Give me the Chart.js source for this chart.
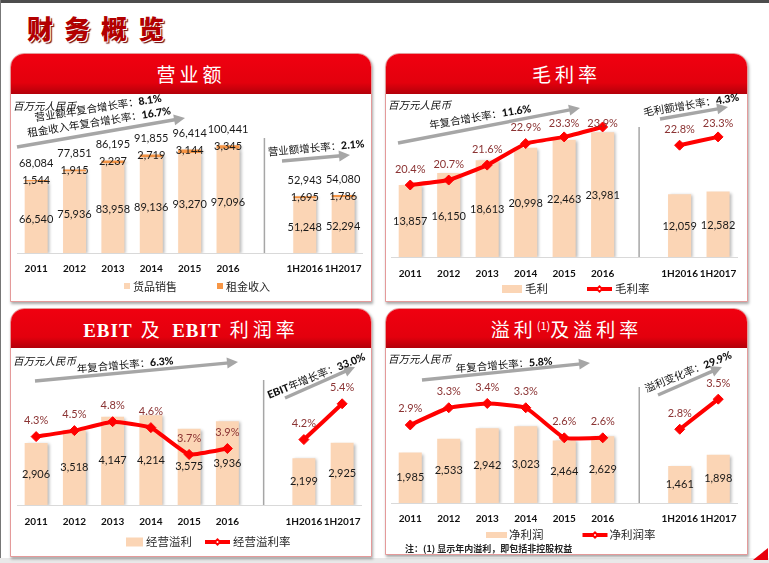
<!DOCTYPE html>
<html>
<head>
<meta charset="utf-8">
<script src="https://cdn.jsdelivr.net/npm/chart.js@4.4.0/dist/chart.umd.min.js"></script>
<style>
  html, body { margin: 0; padding: 0; background: #fff; }
  #page { position: relative; width: 769px; height: 563px; overflow: hidden; background: #fff;
          font-family: Lato, 'Noto Sans CJK SC', sans-serif; }
  .frameTop { position: absolute; left: 0; top: 0; width: 769px; height: 3px; background: #4d4d4d; }
  .frameLeft { position: absolute; left: 0; top: 0; width: 1px; height: 563px; background: #777; }
  .frameBottom { position: absolute; left: 0; top: 558px; width: 769px; height: 5px; background: #e9e9e9; }
  .title { position: absolute; left: 27px; top: 9px; font-size: 26px; font-weight: 900; letter-spacing: 11px;
           color: #b30000; font-family: 'Noto Sans CJK SC', sans-serif;
           text-shadow: 1px 1px 0 #fff, 2px 2px 1px #6a0000; }
  .panel { position: absolute; background: #fff; border: 1px solid #e49a9a; border-radius: 14px 14px 0 0;
           box-shadow: 1px 2px 3px rgba(0,0,0,0.35); overflow: hidden; box-sizing: border-box; }
  .head { height: 40px; line-height: 40px; text-align: center; color: #fff; font-size: 19px; letter-spacing: 4px;
          font-family: 'Noto Sans CJK SC', sans-serif;
          background: linear-gradient(to bottom, #f00010 0%, #e3000d 72%, #b3000a 100%); }
  .head .en { font-family: 'Liberation Serif', serif; font-weight: bold; letter-spacing: 1px; }
  .head sup { font-size: 11px; letter-spacing: 0; vertical-align: 7px; line-height: 0; }
  canvas { position: absolute; }
  .unit { position: absolute; font-size: 10.5px; font-style: italic; color: #111;
          font-family: 'Noto Sans CJK SC', sans-serif; white-space: nowrap; }
  .rt { position: absolute; font-size: 10.5px; color: #111; white-space: nowrap;
        font-family: 'Noto Sans CJK SC', sans-serif; transform-origin: 50% 50%; }
  .rt b { font-family: Lato, sans-serif; font-weight: 900; }
  .note { position: absolute; left: 405px; top: 542px; font-size: 9px; color: #222; font-weight: bold;
          font-family: 'Noto Sans CJK SC', sans-serif; white-space: nowrap; }
  .corner { position: absolute; left: 753px; top: 548px; width: 0; height: 0;
            border-left: 15px solid transparent; border-bottom: 12px solid #e8000b; }
  svg { position: absolute; left: 0; top: 0; }
</style>
</head>
<body>
<div id="page">
  <div class="frameTop"></div>
  <div class="frameLeft"></div>
  <div class="frameBottom"></div>
  <div class="title">财务概览</div>

  <div class="panel" style="left:10px;top:53px;width:362px;height:249px"><div class="head">营业额</div></div>
  <div class="panel" style="left:385px;top:53px;width:363px;height:249px"><div class="head">毛利率</div></div>
  <div class="panel" style="left:10px;top:308px;width:362px;height:249px"><div class="head" style="height:39px;line-height:39px"><span class="en">EBIT</span> 及 <span class="en">EBIT</span> 利润率</div></div>
  <div class="panel" style="left:385px;top:308px;width:363px;height:247px"><div class="head" style="height:39px;line-height:39px">溢利<sup>(1)</sup>及溢利率</div></div>

  <canvas id="c1" width="362" height="209" style="left:10px;top:93px"></canvas>
  <canvas id="c2" width="363" height="209" style="left:385px;top:93px"></canvas>
  <canvas id="c3" width="362" height="210" style="left:10px;top:347px"></canvas>
  <canvas id="c4" width="363" height="208" style="left:385px;top:347px"></canvas>

  <svg id="arrows" width="769" height="563"></svg>

  <div class="unit" style="left:13px;top:98px">百万元人民币</div>
  <div class="unit" style="left:388px;top:97px">百万元人民币</div>
  <div class="unit" style="left:13px;top:353px">百万元人民币</div>
  <div class="unit" style="left:388px;top:351px">百万元人民币</div>

  <div class="rt" data-c="98,107,-8.8">营业额年复合增长率：<b>8.1%</b></div>
  <div class="rt" data-c="99,121,-9">租金收入年复合增长率：<b>16.7%</b></div>
  <div class="rt" data-c="316,147,-5">营业额增长率：<b>2.1%</b></div>
  <div class="rt" data-c="480,116,-9.5">年复合增长率：<b>11.6%</b></div>
  <div class="rt" data-c="691,104,-9.3">毛利额增长率：<b>4.3%</b></div>
  <div class="rt" data-c="125,364,-5">年复合增长率：<b>6.3%</b></div>
  <div class="rt" data-c="316,375,-22"><b>EBIT</b>年增长率：<b>33.0%</b></div>
  <div class="rt" data-c="504,364,-4.5">年复合增长率：<b>5.8%</b></div>
  <div class="rt" data-c="688,371,-22">溢利变化率：<b>29.9%</b></div>

  <div class="note">注：(1) 显示年内溢利，即包括非控股权益</div>
  <div class="corner"></div>
</div>

<script>
// categories (empty slot separates full years from half years)
const categories = ['2011', '2012', '2013', '2014', '2015', '2016', '', '1H2016', '1H2017'];

// 营业额 (RMB million)
const goodsSales   = [66540, 75936, 83958, 89136, 93270, 97096, null, 51248, 52294];
const rentalIncome = [1544, 1915, 2237, 2719, 3144, 3345, null, 1695, 1786];

// 毛利 / 毛利率
const grossProfit = [13857, 16150, 18613, 20998, 22463, 23981, null, 12059, 12582];
const grossMargin = [20.4, 20.7, 21.6, 22.9, 23.3, 23.9, null, 22.8, 23.3];

// 经营溢利 / 经营溢利率
const ebit       = [2906, 3518, 4147, 4214, 3575, 3936, null, 2199, 2925];
const ebitMargin = [4.3, 4.5, 4.8, 4.6, 3.7, 3.9, null, 4.2, 5.4];

// 净利润 / 净利润率
const netProfit = [1985, 2533, 2942, 3023, 2464, 2629, null, 1461, 1898];
const netMargin = [2.9, 3.3, 3.4, 3.3, 2.6, 2.6, null, 2.8, 3.5];

const PEACH = '#fbd5b5';
const ORANGE = '#f79646';
const RED = '#ff0000';
const FONT = "Lato, 'Noto Sans CJK SC', sans-serif";
const num = v => v.toLocaleString('en-US');
const pct = v => v.toFixed(1) + '%';

// soft shadow behind bars
const barShadow = {
  id: 'barShadow',
  beforeDatasetDraw(chart, args) {
    if (args.meta.type !== 'bar') return;
    const ctx = chart.ctx;
    ctx.save();
    ctx.shadowColor = 'rgba(0,0,0,0.28)';
    ctx.shadowBlur = 3;
    ctx.shadowOffsetX = 2;
    ctx.shadowOffsetY = 1;
  },
  afterDatasetDraw(chart, args) {
    if (args.meta.type === 'bar') chart.ctx.restore();
  }
};

// value labels read from dataset.valueLabels
const valueLabels = {
  id: 'valueLabels',
  afterDatasetsDraw(chart) {
    const ctx = chart.ctx;
    chart.data.datasets.forEach((ds, i) => {
      if (!ds.valueLabels) return;
      const meta = chart.getDatasetMeta(i);
      ds.valueLabels.forEach(lab => {
        ctx.save();
        ctx.font = lab.font || ('11px ' + FONT);
        ctx.fillStyle = lab.color || '#1a1a1a';
        ctx.textAlign = 'center';
        ctx.textBaseline = 'middle';
        meta.data.forEach((el, j) => {
          const v = ds.data[j];
          if (v == null) return;
          let y = lab.pos === 'center' ? (el.y + el.base) / 2 : el.y;
          y += lab.dy || 0;
          if (lab.minTop != null) y = Math.max(y, chart.chartArea.top + lab.minTop);
          const val = lab.value ? lab.value(j) : v;
          ctx.fillText((lab.fmt || num)(val), el.x, y);
        });
        ctx.restore();
      });
    });
  }
};

// vertical divider between years and half years
const separator = {
  id: 'separator',
  beforeDatasetsDraw(chart, args, opts) {
    const ctx = chart.ctx;
    const x = chart.scales.x.getPixelForTick(6) + (opts.dx || 0);
    ctx.save();
    ctx.strokeStyle = '#a6a6a6';
    ctx.lineWidth = 1.5;
    ctx.beginPath();
    ctx.moveTo(x, opts.top);
    ctx.lineTo(x, chart.chartArea.bottom);
    ctx.stroke();
    ctx.restore();
  }
};

// one-row legend with the slide's marker shapes
const rowLegend = {
  id: 'rowLegend',
  afterDraw(chart, args, o) {
    const ctx = chart.ctx;
    ctx.save();
    ctx.font = o.font;
    ctx.textBaseline = 'middle';
    let x = o.x;
    chart.data.datasets.forEach(ds => {
      const isLine = ds.type === 'line';
      const mw = isLine ? o.lineW : o.boxW;
      if (isLine) {
        ctx.strokeStyle = RED;
        ctx.lineWidth = 4;
        ctx.beginPath();
        ctx.moveTo(x, o.y);
        ctx.lineTo(x + mw, o.y);
        ctx.stroke();
        ctx.fillStyle = RED;
        ctx.beginPath();
        ctx.moveTo(x + mw / 2 - 4, o.y);
        ctx.lineTo(x + mw / 2, o.y - 4);
        ctx.lineTo(x + mw / 2 + 4, o.y);
        ctx.lineTo(x + mw / 2, o.y + 4);
        ctx.fill();
        ctx.fillStyle = '#fff';
        ctx.beginPath();
        ctx.arc(x + mw / 2, o.y, 1, 0, Math.PI * 2);
        ctx.fill();
      } else {
        ctx.fillStyle = ds.backgroundColor;
        ctx.fillRect(x, o.y - o.boxH / 2 - (o.boxDy || 0), mw, o.boxH);
      }
      x += mw + o.textGap;
      ctx.fillStyle = '#262626';
      ctx.fillText(ds.label, x, o.y);
      x += ctx.measureText(ds.label).width + o.gap;
    });
    ctx.restore();
  }
};

function makeChart(id, p) {
  const scales = {
    x: {
      stacked: !!p.stacked,
      grid: { display: false, drawTicks: false },
      border: { display: true, color: '#d9d9d9', width: 1 },
      ticks: { padding: p.tickPad, color: '#111', maxRotation: 0, minRotation: 0, autoSkip: false,
               font: { size: 10, weight: 'bold', family: FONT } }
    },
    y: { display: false, stacked: !!p.stacked, min: 0, max: p.yMax }
  };
  if (p.y1) scales.y1 = { display: false, min: p.y1[0], max: p.y1[1] };
  return new Chart(document.getElementById(id), {
    type: 'bar',
    data: { labels: categories, datasets: p.datasets },
    options: {
      responsive: false,
      animation: false,
      layout: { padding: p.pad },
      datasets: { bar: { barPercentage: 0.6, categoryPercentage: 1 } },
      plugins: {
        legend: { display: false },
        tooltip: { enabled: false },
        separator: { top: p.sepTop, dx: -2 },
        rowLegend: p.legend
      },
      scales: scales
    },
    plugins: [barShadow, valueLabels, separator, rowLegend]
  });
}

function marginLine(label, data, extra) {
  return Object.assign({
    type: 'line', label: label, data: data, yAxisID: 'y1', order: 0,
    borderColor: RED, backgroundColor: RED, borderWidth: 4, tension: 0.12,
    pointStyle: 'rectRot', pointRadius: 5, pointBorderWidth: 1,
    pointBackgroundColor: RED, pointBorderColor: RED,
    valueLabels: [{ pos: 'top', dy: -16, fmt: pct, color: '#8b3333' }]
  }, extra || {});
}

const legendFont = '11.5px ' + FONT;

makeChart('c1', {
  stacked: true, yMax: 137900, tickPad: 10, sepTop: 45,
  pad: { left: 7, right: 9, top: 12, bottom: 17 },
  legend: { x: 114, y: 194, boxW: 6, boxH: 6, boxDy: 1, lineW: 0, textGap: 3, gap: 40, font: '11px ' + FONT },
  datasets: [
    { label: '货品销售', data: goodsSales, backgroundColor: PEACH,
      valueLabels: [{ pos: 'center', dy: 2 }] },
    { label: '租金收入', data: rentalIncome, backgroundColor: ORANGE,
      valueLabels: [{ pos: 'top', dy: 1 },
                    { pos: 'top', dy: -16, value: j => goodsSales[j] + rentalIncome[j] }] }
  ]
});

makeChart('c2', {
  yMax: 26900, y1: [16.06, 24.5], tickPad: 11, sepTop: 34,
  pad: { left: 6, right: 10.5, top: 24, bottom: 11 },
  legend: { x: 117, y: 196, boxW: 20, boxH: 8, lineW: 25, textGap: 3, gap: 39, font: legendFont },
  datasets: [
    { label: '毛利', data: grossProfit, backgroundColor: PEACH, order: 1,
      valueLabels: [{ pos: 'center', dy: 1 }] },
    marginLine('毛利率', grossMargin,
      { valueLabels: [{ pos: 'top', dy: -16, fmt: pct, color: '#8b3333', minTop: 6 }] })
  ]
});

makeChart('c3', {
  yMax: 6714, y1: [2.007, 6.8], tickPad: 11, sepTop: 33,
  pad: { left: 7, right: 9, top: 15, bottom: 18 },
  legend: { x: 116, y: 195, boxW: 17, boxH: 9, lineW: 25, textGap: 3, gap: 13, font: legendFont },
  datasets: [
    { label: '经营溢利', data: ebit, backgroundColor: PEACH, order: 1,
      valueLabels: [{ pos: 'center', dy: 0 }] },
    marginLine('经营溢利率', ebitMargin)
  ]
});

makeChart('c4', {
  yMax: 5551, y1: [1.083, 4.365], tickPad: 10, sepTop: 40,
  pad: { left: 6, right: 10.5, top: 15, bottom: 20 },
  legend: { x: 101, y: 188, boxW: 21, boxH: 6, lineW: 25, textGap: 2, gap: 39, font: legendFont },
  datasets: [
    { label: '净利润', data: netProfit, backgroundColor: PEACH, order: 1,
      valueLabels: [{ pos: 'center', dy: 0 }] },
    marginLine('净利润率', netMargin)
  ]
});

// rotated growth captions
document.querySelectorAll('.rt').forEach(el => {
  const [cx, cy, a] = el.dataset.c.split(',').map(Number);
  el.style.left = cx + 'px';
  el.style.top = cy + 'px';
  el.style.transform = 'translate(-50%,-50%) rotate(' + a + 'deg)';
});

// grey trend arrows
const arrows = [
  [17, 147, 185, 118], [282, 161, 350, 155],
  [398, 143, 580, 108], [660, 119, 728, 107],
  [35, 381, 238, 362], [285, 398, 355, 367],
  [422, 380, 590, 363], [658, 395, 722, 367]
];
const svg = document.getElementById('arrows');
let html = '';
arrows.forEach(([x1, y1, x2, y2]) => {
  const len = Math.hypot(x2 - x1, y2 - y1);
  const ux = (x2 - x1) / len, uy = (y2 - y1) / len;
  const nx = -uy, ny = ux;
  const bx = x2 - ux * 11, by = y2 - uy * 11;
  html += '<line x1="' + x1 + '" y1="' + y1 + '" x2="' + (bx + ux * 2) + '" y2="' + (by + uy * 2) +
          '" stroke="#a6a6a6" stroke-width="3.4"/>';
  html += '<polygon fill="#a6a6a6" points="' + x2 + ',' + y2 + ' ' + (bx + nx * 5.5) + ',' + (by + ny * 5.5) +
          ' ' + (bx - nx * 5.5) + ',' + (by - ny * 5.5) + '"/>';
});
svg.innerHTML = html;
</script>
</body>
</html>
